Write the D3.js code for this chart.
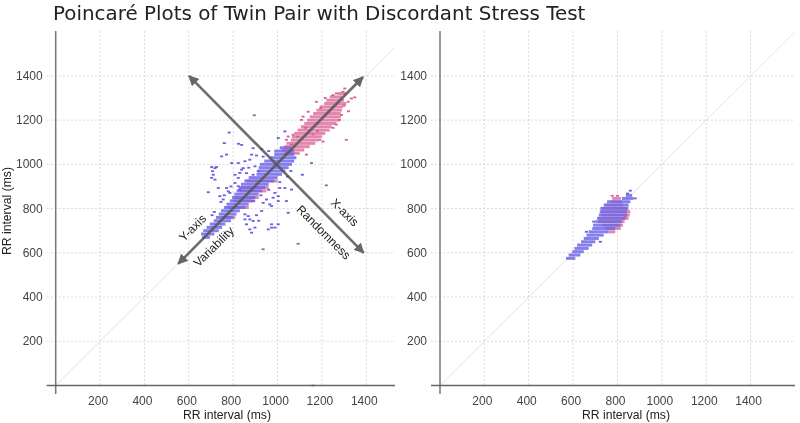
<!DOCTYPE html>
<html><head><meta charset="utf-8">
<script src="https://cdn.jsdelivr.net/npm/d3@7"></script>
<style>html,body{margin:0;background:#fff}svg{display:block;filter:blur(0.45px)}text{font-family:"Liberation Sans",Arial,sans-serif}</style>
</head><body><svg id="c" width="800" height="423"></svg>
<script>
const titleText = "Poincaré Plots of Twin Pair with Discordant Stress Test";
const tickValues = [200,400,600,800,1000,1200,1400];
// rows: [RR n+1, RR n from, RR n to]
const leftBlueRows = [[1075,1010,1060],[1060,985,1075],[1045,985,1075],[1030,965,1085],[1015,940,1075],[1000,921,1065],[985,915,1050],[970,910,1035],[955,905,1020],[940,870,1000],[925,850,985],[910,835,960],[895,825,945],[880,815,930],[865,805,915],[850,795,900],[835,785,885],[820,770,870],[805,758,855],[790,745,830],[775,735,815],[760,722,800],[745,712,790],[730,695,765],[715,680,750],[700,665,735],[685,655,715],[670,660,695]];
const leftPinkRows = [[1320,1270,1310],[1305,1235,1290],[1290,1220,1300],[1275,1210,1310],[1260,1190,1295],[1245,1175,1290],[1230,1160,1285],[1215,1145,1285],[1200,1133,1280],[1185,1120,1265],[1170,1105,1245],[1155,1090,1235],[1140,1075,1215],[1125,1065,1200],[1110,1060,1185],[1095,1040,1170],[1080,1030,1145],[1065,1020,1120],[1050,1030,1100],[925,860,1000],[895,835,960],[880,830,950],[850,805,915],[835,800,900],[805,770,870],[760,750,810]];
const leftBlueDots = [[782,1144],[760,1096],[824,1093],[838,1088],[890,1073],[928,1069],[883,1044],[748,1036],[770,1044],[875,1021],[853,1014],[823,1006],[793,1006],[845,983],[830,961],[808,953],[823,939],[838,976],[898,991],[913,969],[890,953],[703,988],[718,983],[707,969],[725,988],[703,939],[718,931],[710,953],[688,874],[733,893],[770,893],[778,878],[740,856],[755,841],[785,871],[808,916],[823,901],[830,886],[1033,893],[1010,893],[988,871],[1003,856],[980,849],[950,841],[935,826],[965,819],[1003,834],[1040,834],[928,789],[973,811],[1048,781],[853,774],[868,766],[853,751],[875,751],[890,744],[860,729],[875,706],[898,714],[883,691],[973,714],[958,706],[988,714],[973,729],[1003,729],[1112,953],[1033,1149],[1003,1119],[1063,886],[905,1040],[935,1035],[960,1060],[860,960],[870,985],[1010,920],[1045,945],[1060,970],[960,885],[925,860],[890,835],[760,860],[745,830],[790,900],[705,770],[715,785],[905,770],[915,745]];
const leftGreyDots = [[895,1222],[935,616],[1093,641],[1220,905],[1153,1006]];
const leftPinkDots = [[1303,1343],[1333,1298],[1348,1303],[1318,1283],[1250,1313],[1265,1321],[1295,1328],[1175,1283],[1138,1238],[1115,1216],[1108,1201],[1310,1111],[1205,1103],[1190,1111],[1280,1201],[1288,1223],[1040,1111],[1048,1126],[1070,1134],[1063,1089],[1040,1066],[1130,1044],[1160,0],[1320,1240],[1300,1265],[1215,1300],[1195,1255],[1125,1165],[1090,1125],[1160,1135],[1180,1150],[1250,1165],[1265,1180]];
const rightBlueRows = [[860,838,866],[846,820,873],[831,753,858],[816,738,850],[801,723,846],[786,720,843],[771,716,843],[756,708,836],[741,700,820],[725,690,813],[710,686,790],[695,670,760],[680,660,738],[665,648,716],[650,636,700],[635,618,686],[620,606,670],[605,596,648],[590,580,633],[575,568,610]];
const rightPinkRows = [[846,776,815],[831,770,820],[816,745,825],[801,730,850],[786,725,858],[771,725,855],[756,715,850],[741,715,832],[725,730,825],[710,745,815],[695,760,790]];
const rightBlueDots = [[858,881],[880,846],[693,741],[723,650],[660,695],[845,868]];
const rightPinkDots = [[776,858],[800,858],[835,763]];
const arrowSegments = [[[601,1400],[1388,600]],[[552,550],[1385,1395]]];
const labelPositions = [["X-axis",1300,780,45],["Randomness",1205,690,45],["Y-axis",620,710,-45],["Variability",715,625,-45]];

const svg = d3.select("#c");
const y = d3.scaleLinear().domain([0,1400]).range([385.5,75.9]);
const defs = svg.append("defs");
defs.append("marker").attr("id","ah").attr("viewBox","0 0 10 10").attr("refX",9).attr("refY",5)
  .attr("markerWidth",4).attr("markerHeight",4).attr("orient","auto-start-reverse").attr("markerUnits","strokeWidth")
  .append("path").attr("d","M0,0L10,5L0,10z").attr("fill","#666");

function panel(x0, blueRows, pinkRows, blueDots, pinkDots, greyDots, opts){
  const x = d3.scaleLinear().domain([0,1400]).range([x0,x0+310.6]);
  const g = svg.append("g");
  const left = x0-9, right = opts.right;
  const gridStyle = s => s.attr("stroke","#d8d8d8").attr("stroke-width",1).attr("stroke-dasharray","2,2");
  g.selectAll(".h").data(tickValues).join("line").attr("x1",left).attr("x2",right).attr("y1",d=>y(d)).attr("y2",d=>y(d)).call(gridStyle);
  g.selectAll(".v").data(tickValues).join("line").attr("x1",d=>x(d)).attr("x2",d=>x(d)).attr("y1",31).attr("y2",385).call(gridStyle);
  g.append("line").attr("x1",x(0)).attr("y1",y(0)).attr("x2",right).attr("y2",y(x.invert(right))).attr("stroke","#e2e2e2").attr("stroke-width",1);
  const rows = (data,color,op)=>g.append("g").selectAll("rect").data(data).join("rect")
    .attr("x",d=>x(d[1])).attr("width",d=>x(d[2])-x(d[1])).attr("y",d=>y(d[0])-1.5).attr("height",3).attr("fill",color).attr("opacity",op);
  const dots = (data,color)=>g.append("g").selectAll("rect").data(data).join("rect")
    .attr("x",d=>x(d[0])-1.5).attr("y",d=>y(d[1])-0.9).attr("width",3).attr("height",1.8).attr("fill",color);
  rows(pinkRows,"#df7ba6",0.9);
  rows(blueRows,"#6f69e8",0.85);
  dots(blueDots,"#6a5fdc"); dots(pinkDots,"#dc5f90"); dots(greyDots,"#77779a");
  g.append("line").attr("x1",x(0)).attr("x2",x(0)).attr("y1",31).attr("y2",394).attr("stroke","#777").attr("stroke-width",1.5);
  g.append("line").attr("x1",left).attr("x2",right).attr("y1",y(0)).attr("y2",y(0)).attr("stroke","#666").attr("stroke-width",1.3);
  g.selectAll(".yl").data(tickValues).join("text").attr("x",x0-13).attr("y",d=>y(d)+4).attr("text-anchor","end").attr("font-size",12).attr("fill","#444").text(d=>d);
  g.selectAll(".xl").data(tickValues).join("text").attr("x",d=>x(d)-2).attr("y",405).attr("text-anchor","middle").attr("font-size",12).attr("fill","#444").text(d=>d);
  g.append("text").attr("x",opts.xTitle).attr("y",419).attr("text-anchor","middle").attr("font-size",12.2).attr("fill","#222").text("RR interval (ms)");
  return x;
}
const xL = panel(55.7,leftBlueRows,leftPinkRows,leftBlueDots,leftPinkDots,leftGreyDots,{right:395,xTitle:227});
panel(440,rightBlueRows,rightPinkRows,rightBlueDots,rightPinkDots,[],{right:795,xTitle:626});

svg.append("g").selectAll("line").data(arrowSegments).join("line")
  .attr("x1",d=>xL(d[0][0])).attr("y1",d=>y(d[0][1])).attr("x2",d=>xL(d[1][0])).attr("y2",d=>y(d[1][1]))
  .attr("stroke","#555").attr("stroke-opacity",0.85).attr("stroke-width",2.6)
  .attr("marker-start","url(#ah)").attr("marker-end","url(#ah)");
svg.append("g").selectAll("text").data(labelPositions).join("text")
  .attr("transform",d=>`translate(${xL(d[1])},${y(d[2])}) rotate(${d[3]})`)
  .attr("text-anchor","middle").attr("dominant-baseline","middle").attr("font-size",12).attr("fill","#222").text(d=>d[0]);
svg.append("text").attr("transform","translate(11,211) rotate(-90)").attr("text-anchor","middle").attr("font-size",12.2).attr("fill","#222").text("RR interval (ms)");
svg.append("text").attr("x",53).attr("y",20).attr("font-size",19.9).attr("fill","#222").style("font-family","'DejaVu Sans'").text(titleText);
</script></body></html>
